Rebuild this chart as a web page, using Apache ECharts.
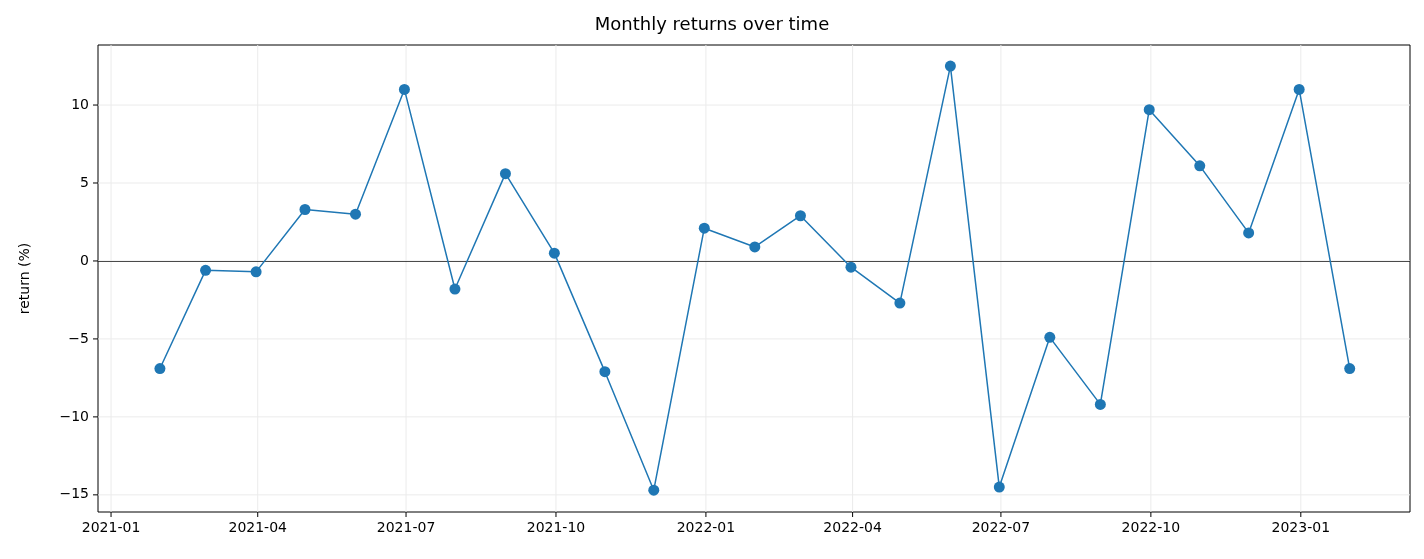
<!DOCTYPE html>
<html><head><meta charset="utf-8">
<script src="https://cdn.jsdelivr.net/npm/echarts@6/dist/echarts.min.js"></script>
<style>html,body{margin:0;padding:0;background:#fff}#c{width:1424px;height:559px}</style>
</head><body><div id="c"></div>
<script>
const dates = ['2021-01-31','2021-02-28','2021-03-31','2021-04-30','2021-05-31','2021-06-30','2021-07-31','2021-08-31','2021-09-30','2021-10-31','2021-11-30','2021-12-31','2022-01-31','2022-02-28','2022-03-31','2022-04-30','2022-05-31','2022-06-30','2022-07-31','2022-08-31','2022-09-30','2022-10-31','2022-11-30','2022-12-31','2023-01-31'];
const returns = [-6.9,-0.6,-0.7,3.3,3.0,11.0,-1.8,5.6,0.5,-7.1,-14.7,2.1,0.9,2.9,-0.4,-2.7,12.5,-14.5,-4.9,-9.2,9.7,6.1,1.8,11.0,-6.9];
const xTickLabels = ['2021-01','2021-04','2021-07','2021-10','2022-01','2022-04','2022-07','2022-10','2023-01'];
const yTickValues = [-15,-10,-5,0,5,10];
const xMin = Date.parse('2020-12-24'), xMax = Date.parse('2023-03-09');
const yMin = -16.1, yMax = 13.85;
const font = 'DejaVu Sans';
const chart = echarts.init(document.getElementById('c'));
function xTick(params, api){
  const t = api.value(0);
  const cs = params.coordSys;
  const p = api.coord([t, yMin]);
  const lab = xTickLabels[params.dataIndex];
  return {type:'group', children:[
    {type:'line', shape:{x1:p[0],y1:cs.y,x2:p[0],y2:cs.y+cs.height}, style:{stroke:'#ebebeb',lineWidth:1}},
    {type:'line', shape:{x1:p[0],y1:cs.y+cs.height,x2:p[0],y2:cs.y+cs.height+5}, style:{stroke:'#000',lineWidth:1}},
    {type:'text', x:p[0], y:cs.y+cs.height+9, style:{text:lab, textAlign:'center', textVerticalAlign:'top', font:'14px '+font, fill:'#000'}}
  ]};
}
function yTick(params, api){
  const v = api.value(1);
  const cs = params.coordSys;
  const p = api.coord([xMin, v]);
  return {type:'group', children:[
    {type:'line', shape:{x1:cs.x,y1:p[1],x2:cs.x+cs.width,y2:p[1]}, style:{stroke:'#ebebeb',lineWidth:1}},
    {type:'line', shape:{x1:cs.x-5,y1:p[1],x2:cs.x,y2:p[1]}, style:{stroke:'#000',lineWidth:1}},
    {type:'text', x:cs.x-9, y:p[1], style:{text:(v<0?'\u2212'+(-v):String(v)), textAlign:'right', textVerticalAlign:'middle', font:'14px '+font, fill:'#000'}}
  ]};
}
chart.setOption({
  animation:false,
  title:{text:'Monthly returns over time', left:'center', top:11, textStyle:{fontFamily:font, fontSize:18, fontWeight:'normal', color:'#000'}},
  grid:{left:98, right:14, top:45, bottom:47, show:true, borderColor:'#000', borderWidth:1},
  xAxis:{type:'time', min:xMin, max:xMax, axisLabel:{show:false}, axisTick:{show:false}, splitLine:{show:false}, axisLine:{show:false}},
  yAxis:{type:'value', min:yMin, max:yMax, axisLabel:{show:false}, axisTick:{show:false}, splitLine:{show:false}, axisLine:{show:false},
    name:'return (%)', nameLocation:'middle', nameGap:66, nameTextStyle:{fontFamily:font, fontSize:14, color:'#000'}},
  series:[
    {type:'custom', renderItem:xTick, data:xTickLabels.map(s=>[Date.parse(s+'-01'), 0]), silent:true, clip:false, z:1},
    {type:'custom', renderItem:yTick, data:yTickValues.map(v=>[xMin, v]), silent:true, clip:false, z:1},
    {type:'line', data:dates.map((d,i)=>[Date.parse(d), returns[i]]), symbol:'circle', symbolSize:11,
      lineStyle:{color:'#1f77b4', width:1.5}, itemStyle:{color:'#1f77b4'}, z:5,
      markLine:{silent:true, symbol:'none', label:{show:false}, lineStyle:{color:'#000', width:0.7, type:'solid'}, data:[{yAxis:0}]}}
  ]
});
</script></body></html>
